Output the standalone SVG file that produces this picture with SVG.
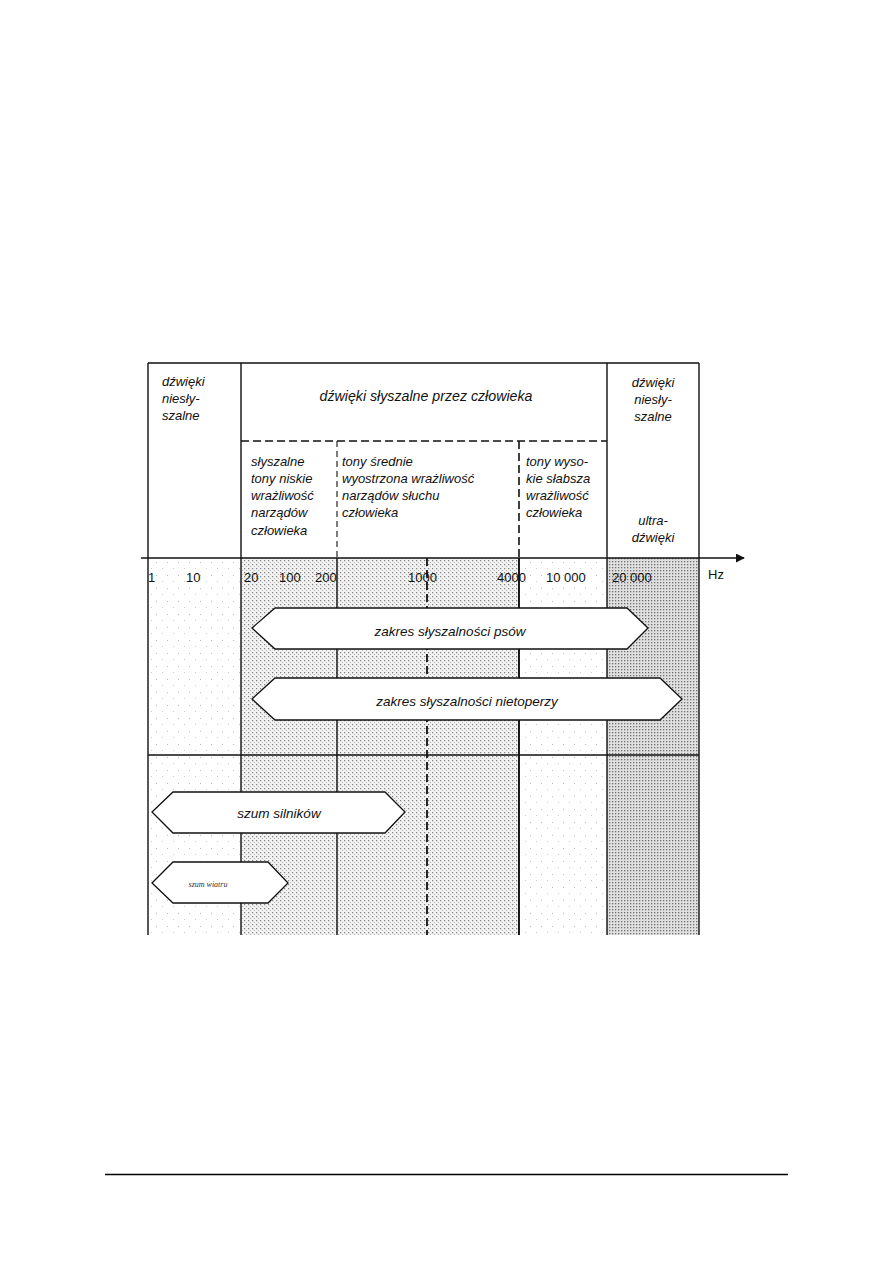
<svg xmlns="http://www.w3.org/2000/svg" width="893" height="1263" viewBox="0 0 893 1263">
<style>
.t{font-family:"Liberation Sans",Arial,sans-serif;font-size:13px;font-style:italic;fill:#111}
.n{font-family:"Liberation Sans",Arial,sans-serif;font-size:13px;fill:#111}
.ln{stroke:#111;stroke-width:1.4;fill:none}
.dash{stroke:#111;stroke-width:1.6;stroke-dasharray:8 4;fill:none}
.dashthin{stroke:#111;stroke-width:1.1;stroke-dasharray:6 4;fill:none}
.band{fill:#fff;stroke:#111;stroke-width:1.3}
</style>
<defs>
<pattern id="pMed" width="4" height="4" patternUnits="userSpaceOnUse">
<rect width="4" height="4" fill="#f2f2f2"/>
<rect x="0" y="0" width="1.2" height="1.2" fill="#808080"/>
<rect x="2" y="2" width="1" height="1" fill="#b0b0b0"/>
</pattern>
<pattern id="pDense" width="3" height="3" patternUnits="userSpaceOnUse">
<rect width="3" height="3" fill="#e0e0e0"/>
<rect x="0" y="0" width="1.3" height="1.3" fill="#707070"/>
</pattern>
<pattern id="pSparse" width="11" height="13" patternUnits="userSpaceOnUse">
<rect width="11" height="13" fill="#fff"/>
<rect x="2" y="3" width="1" height="1" fill="#bbb"/>
<rect x="8" y="9" width="1" height="1" fill="#ccc"/>
</pattern>
<marker id="arr" viewBox="0 0 10 10" refX="9" refY="5" markerWidth="9" markerHeight="9" markerUnits="userSpaceOnUse" orient="auto">
<path d="M0,0 L10,5 L0,10 z" fill="#111"/>
</marker>
</defs>
<rect width="893" height="1263" fill="#fff"/>

<g id="shading">
<rect x="148" y="558" width="93" height="377" fill="url(#pSparse)"/>
<rect x="241" y="558" width="278" height="377" fill="url(#pMed)"/>
<rect x="519" y="558" width="88" height="377" fill="url(#pSparse)"/>
<rect x="607" y="558" width="92" height="377" fill="url(#pDense)"/>
</g>

<g id="grid">
<path class="ln" d="M148,363 H699 M148,363 V935 M699,363 V935 M241,363 V935 M607,363 V935"/>
<path class="ln" d="M148,755 H699"/>
<path class="dash" d="M241,441 H607"/>
<path class="dashthin" d="M337,441 V558"/>
<path class="dash" d="M519,441 V558"/>
<path class="ln" d="M337,558 V935"/>
<path class="dash" d="M427,558 V935" style="stroke-width:1.8"/>
<path class="ln" d="M519,558 V935" style="stroke-width:1.9"/>
</g>

<g id="connectors">
<path d="M141,558 H744" stroke="#111" stroke-width="1.5" fill="none" marker-end="url(#arr)"/>
</g>

<g id="header-left">
<text class="t" x="162" y="386">dźwięki</text>
<text class="t" x="162" y="403">niesły-</text>
<text class="t" x="162" y="420">szalne</text>
</g>
<g id="header-mid">
<text class="t" x="426" y="401" text-anchor="middle" style="font-size:14.2px">dźwięki słyszalne przez człowieka</text>
</g>
<g id="header-right">
<text class="t" x="653" y="387" text-anchor="middle">dźwięki</text>
<text class="t" x="653" y="404" text-anchor="middle">niesły-</text>
<text class="t" x="653" y="421" text-anchor="middle">szalne</text>
<text class="t" x="653" y="525" text-anchor="middle">ultra-</text>
<text class="t" x="653" y="542" text-anchor="middle">dźwięki</text>
</g>
<g id="sub-low">
<text class="t" x="251" y="466">słyszalne</text>
<text class="t" x="251" y="483">tony niskie</text>
<text class="t" x="251" y="500">wrażliwość</text>
<text class="t" x="251" y="517">narządów</text>
<text class="t" x="251" y="535">człowieka</text>
</g>
<g id="sub-mid">
<text class="t" x="342" y="466">tony średnie</text>
<text class="t" x="342" y="483">wyostrzona wrażliwość</text>
<text class="t" x="342" y="500">narządów słuchu</text>
<text class="t" x="342" y="517">człowieka</text>
</g>
<g id="sub-high">
<text class="t" x="526" y="466">tony wyso-</text>
<text class="t" x="526" y="483">kie słabsza</text>
<text class="t" x="526" y="500">wrażliwość</text>
<text class="t" x="526" y="517">człowieka</text>
</g>

<g id="axis-labels">
<text class="n" x="148" y="582">1</text>
<text class="n" x="186" y="582">10</text>
<text class="n" x="244" y="582">20</text>
<text class="n" x="279" y="582">100</text>
<text class="n" x="315" y="582">200</text>
<text class="n" x="408" y="582">1000</text>
<text class="n" x="497" y="582">4000</text>
<text class="n" x="546" y="582">10 000</text>
<text class="n" x="612" y="582">20 000</text>
<text class="n" x="708" y="579">Hz</text>
</g>

<g id="dogs">
<path class="band" d="M252,628 L275,608 H627 L648,628 L627,649 H275 Z"/>
<text class="t" x="450" y="636" text-anchor="middle" style="font-size:13.5px">zakres słyszalności psów</text>
</g>
<g id="bats">
<path class="band" d="M252,699 L275,678 H660 L682,699 L660,720 H275 Z"/>
<text class="t" x="467" y="706" text-anchor="middle" style="font-size:13.5px">zakres słyszalności nietoperzy</text>
</g>
<g id="engines">
<path class="band" d="M152,812 L173,792 H385 L405,812 L385,833 H173 Z"/>
<text class="t" x="279" y="818" text-anchor="middle" style="font-size:13.5px">szum silników</text>
</g>
<g id="wind">
<path class="band" d="M152,883 L173,862 H268 L288,883 L268,903 H173 Z"/>
<text x="208" y="887" text-anchor="middle" style="font-family:'Liberation Serif',serif;font-size:8px;font-style:italic;fill:#333">szum wiatru</text>
</g>

<g id="footer">
<path d="M105,1174.5 H788" stroke="#000" stroke-width="1.5"/>
</g>
</svg>
